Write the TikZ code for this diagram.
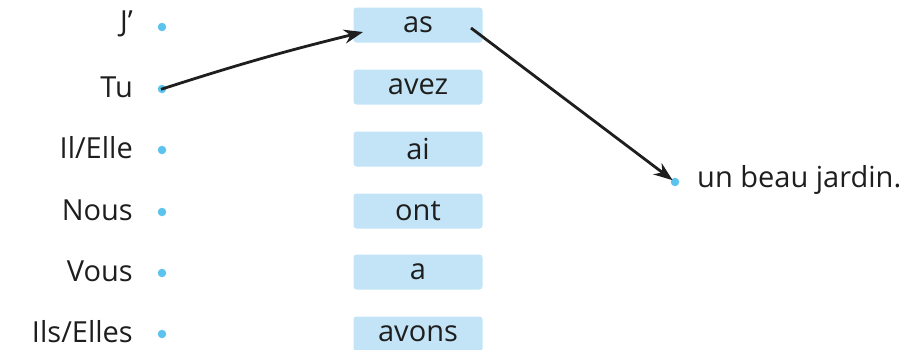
\documentclass[tikz,border=0pt]{standalone}
\usepackage{fontspec}
\setmainfont{Open Sans}
\usetikzlibrary{arrows.meta}
\definecolor{boxblue}{HTML}{C2E4F6}
\definecolor{dotblue}{HTML}{5CC3EE}
\definecolor{ink}{HTML}{1E1E1E}
\tikzset{
  lbl/.style={anchor=east, inner sep=0pt, font=\fontsize{29}{32}\selectfont, text=ink},
  dotnode/.style={circle, fill=dotblue, minimum size=8.5pt, inner sep=0pt},
  verbbox/.style={rounded corners=3pt, fill=boxblue, minimum width=129pt, minimum height=35pt, inner sep=0pt, font=\fontsize{29}{32}\selectfont, text=ink},
  conn/.style={ink, line width=2.8pt, -{Stealth[length=19pt,width=14pt]}}
}
\begin{document}
\begin{tikzpicture}[x=1pt,y=-1pt]
\useasboundingbox (0,0) rectangle (909,349);
% subjects
\node[lbl] (lj) at (133,24) {J'};
\node[lbl] (ltu) at (133,87) {Tu};
\node[lbl] (lil) at (133,148) {Il/Elle};
\node[lbl] (lnous) at (133,210) {Nous};
\node[lbl] (lvous) at (133,271) {Vous};
\node[lbl] (lils) at (133,332) {Ils/Elles};
% dots
\node[dotnode] (dj) at (162,27) {};
\node[dotnode] (dtu) at (162,89) {};
\node[dotnode] (dil) at (162,150) {};
\node[dotnode] (dnous) at (162,212) {};
\node[dotnode] (dvous) at (162,273) {};
\node[dotnode] (dils) at (162,334) {};
% verbs
\node[verbbox] (bas) at (418,25) {as};
\node[verbbox] (bavez) at (418,87) {avez};
\node[verbbox] (bai) at (418,149) {ai};
\node[verbbox] (bont) at (418,211) {ont};
\node[verbbox] (ba) at (418,272) {a};
\node[verbbox] (bavons) at (418,334) {avons};
% complement
\node[dotnode] (djard) at (675,182) {};
\node[lbl, anchor=west] (tjard) at (697,180) {un beau jardin.};
% connectors
\coordinate (asin) at (363,32);
\coordinate (asout) at (471,28);
\draw[conn, shorten <=-1pt] (dtu.center) to[bend left=2] (asin);
\draw[conn, shorten >=3pt] (asout) -- (djard.center);
\end{tikzpicture}
\end{document}
